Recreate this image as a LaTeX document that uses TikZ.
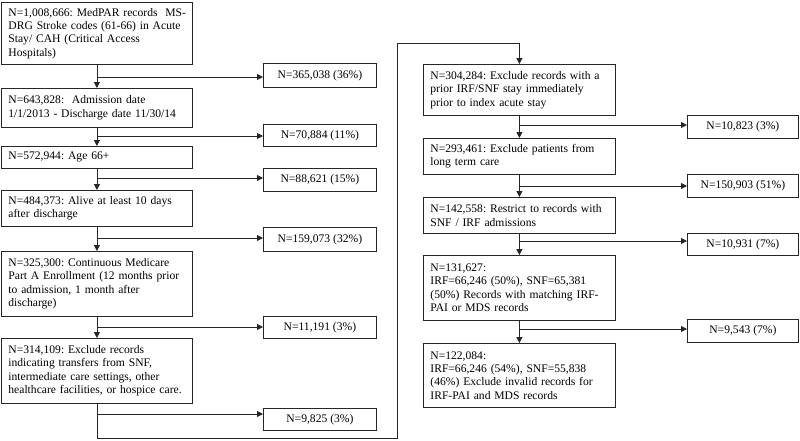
\documentclass[tikz,border=0pt]{standalone}
\usepackage{fontspec}
\setmainfont{Liberation Serif}
\usetikzlibrary{arrows.meta}
\begin{document}
\frenchspacing
\begin{tikzpicture}[x=1pt,y=-1pt,
  every node/.style={font=\fontsize{11.6}{13.4}\selectfont\frenchspacing, draw=black!85, line width=0.8pt, inner ysep=0pt},
  stepbox/.style={anchor=north west, align=left, inner xsep=7pt},
  lbox/.style={stepbox, text width=177pt},
  rbox/.style={stepbox, text width=178pt},
  exbox/.style={anchor=north west, align=center},
  arr/.style={draw=black!85, line width=0.8pt, -{Triangle[length=6pt,width=6pt]}},
  ln/.style={draw=black!85, line width=0.8pt}]
\useasboundingbox (0,0) rectangle (800,440);
% left column
\node[lbox, minimum height=62pt] (b1) at (1,2) {\mbox{N=1,008,666: MedPAR records\ \ MS-}\\DRG Stroke codes (61-66) in Acute\\Stay/ CAH (Critical Access\\Hospitals)};
\node[lbox, minimum height=39pt] (b2) at (1,88) {N=643,828:\ \ Admission date\\\mbox{1/1/2013 - Discharge date 11/30/14}};
\node[lbox, minimum height=22pt] (b3) at (1,146) {N=572,944: Age 66+};
\node[lbox, minimum height=36pt] (b4) at (1,190) {N=484,373: Alive at least 10 days\\after discharge};
\node[lbox, minimum height=65pt] (b5) at (1,251) {N=325,300: Continuous Medicare\\\mbox{Part A Enrollment (12 months prior}\\to admission, 1 month after\\discharge)};
\node[lbox, minimum height=65pt] (b6) at (1,338) {N=314,109: Exclude records\\indicating transfers from SNF,\\intermediate care settings, other\\\mbox{healthcare facilities, or hospice care.}};
% left exclusions
\node[exbox, minimum width=113pt, minimum height=24pt] (e1) at (263,63) {N=365,038 (36\%)};
\node[exbox, minimum width=113pt, minimum height=22pt] (e2) at (263,124) {N=70,884 (11\%)};
\node[exbox, minimum width=113pt, minimum height=23pt] (e3) at (263,168) {N=88,621 (15\%)};
\node[exbox, minimum width=113pt, minimum height=24pt] (e4) at (263,227) {N=159,073 (32\%)};
\node[exbox, minimum width=113pt, minimum height=22pt] (e5) at (263,316) {N=11,191 (3\%)};
\node[exbox, minimum width=113pt, minimum height=22pt] (e6) at (263,408) {N=9,825 (3\%)};
% right column
\node[rbox, minimum height=51pt] (b7) at (423,64) {\mbox{N=304,284: Exclude records with a}\\prior IRF/SNF stay immediately\\prior to index acute stay};
\node[rbox, minimum height=36pt] (b8) at (423,138) {N=293,461: Exclude patients from\\long term care};
\node[rbox, minimum height=36pt] (b9) at (423,197) {\mbox{N=142,558: Restrict to records with}\\SNF / IRF admissions};
\node[rbox, minimum height=65pt] (b10) at (423,255) {N=131,627:\\IRF=66,246 (50\%), SNF=65,381\\\mbox{(50\%) Records with matching IRF-}\\PAI or MDS records};
\node[rbox, minimum height=64pt] (b11) at (423,343) {N=122,084:\\IRF=66,246 (54\%), SNF=55,838\\\mbox{(46\%) Exclude invalid records for}\\IRF-PAI and MDS records};
% right exclusions
\node[exbox, minimum width=111pt, minimum height=23pt] (r1) at (687,115) {N=10,823 (3\%)};
\node[exbox, minimum width=111pt, minimum height=23pt] (r2) at (687,174) {N=150,903 (51\%)};
\node[exbox, minimum width=111pt, minimum height=22pt] (r3) at (687,233) {N=10,931 (7\%)};
\node[exbox, minimum width=111pt, minimum height=23pt] (r4) at (687,319) {N=9,543 (7\%)};
% branch points
\coordinate (j1) at (b1.south |- 0,77);
\coordinate (j2) at (b2.south |- 0,136);
\coordinate (j3) at (b3.south |- 0,178);
\coordinate (j4) at (b4.south |- 0,238);
\coordinate (j5) at (b5.south |- 0,327);
\coordinate (j6) at (b6.south |- 0,414);
\coordinate (k1) at (b7.south |- 0,125);
\coordinate (k2) at (b8.south |- 0,186);
\coordinate (k3) at (b9.south |- 0,241);
\coordinate (k4) at (b10.south |- 0,329);
% main flow
\draw[arr] (b1.south) -- (b2.north);
\draw[arr] (b2.south) -- (b3.north);
\draw[arr] (b3.south) -- (b4.north);
\draw[arr] (b4.south) -- (b5.north);
\draw[arr] (b5.south) -- (b6.north);
\coordinate (t1) at (397,438);
\coordinate (t2) at (397,43);
\draw[arr] (b6.south) |- (t1) -- (t2) -| (b7.north);
\draw[arr] (b7.south) -- (b8.north);
\draw[arr] (b8.south) -- (b9.north);
\draw[arr] (b9.south) -- (b10.north);
\draw[arr] (b10.south) -- (b11.north);
% exclusion arrows
\draw[arr] (j1) -- (j1 -| e1.west);
\draw[arr] (j2) -- (j2 -| e2.west);
\draw[arr] (j3) -- (j3 -| e3.west);
\draw[arr] (j4) -- (j4 -| e4.west);
\draw[arr] (j5) -- (j5 -| e5.west);
\draw[arr] (j6) -- (j6 -| e6.west);
\draw[arr] (k1) -- (k1 -| r1.west);
\draw[arr] (k2) -- (k2 -| r2.west);
\draw[arr] (k3) -- (k3 -| r3.west);
\draw[arr] (k4) -- (k4 -| r4.west);
\end{tikzpicture}
\end{document}
